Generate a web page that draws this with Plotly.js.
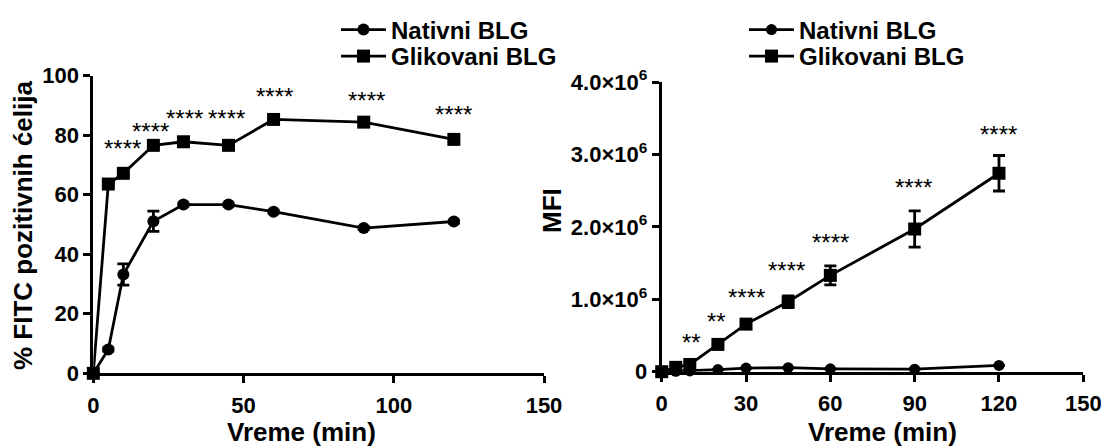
<!DOCTYPE html>
<html>
<head>
<meta charset="utf-8">
<script src="https://cdn.plot.ly/plotly-3.0.1.min.js"></script>
<style>html,body{margin:0;padding:0;background:#fff;}#chart{width:1104px;height:448px;}</style>
</head>
<body>
<div id="chart"></div>
<script>
// ---- data ----
const time = [0, 5, 10, 20, 30, 45, 60, 90, 120];
const seriesNames = ['Nativni BLG', 'Glikovani BLG'];

// Left panel: % FITC positive cells
const pctNativ = [0, 8, 33.2, 51.1, 56.7, 56.7, 54.3, 48.8, 51];
const pctNativErr = [0, 0.5, 3.6, 3.4, 0.5, 0.5, 0.5, 0.5, 0.5];
const pctGlik = [0, 63.6, 67.2, 76.6, 77.8, 76.6, 85.3, 84.4, 78.6];
const pctGlikErr = [0, 0.5, 0.5, 0.5, 0.5, 0.5, 0.5, 0.5, 0.5];

// Right panel: MFI
const mfiNativ = [0, 5000, 10000, 30000, 50000, 55000, 40000, 35000, 87000];
const mfiNativErr = [0, 0, 0, 0, 0, 0, 0, 0, 0];
const mfiGlik = [0, 60000, 100000, 377000, 657000, 965000, 1330000, 1970000, 2740000];
const mfiGlikErr = [0, 0, 0, 0, 0, 80000, 130000, 250000, 245000];

// significance labels
const sigLeftX = [9.6, 19.2, 30.4, 44.4, 60.3, 90.8, 120];
const sigLeftY = [75.4, 81.3, 85.7, 85.7, 93.1, 91.8, 86.8];
const sigLeftText = ['****', '****', '****', '****', '****', '****', '****'];
const sigRightX = [10.5, 19.5, 30.3, 44.5, 60, 89.6, 120];
const sigRightY = [410000, 700000, 1020000, 1400000, 1780000, 2550000, 3280000];
const sigRightText = ['**', '**', '****', '****', '****', '****', '****'];

// tick labels
const leftXTicks = [0, 50, 100, 150];
const leftYTicks = [0, 20, 40, 60, 80, 100];
const rightXTicks = [0, 30, 60, 90, 120, 150];
const rightYTicks = [0, 1e6, 2e6, 3e6, 4e6];
const rightYTickText = ['0', '1.0×10<sup>6</sup>', '2.0×10<sup>6</sup>', '3.0×10<sup>6</sup>', '4.0×10<sup>6</sup>'];

// axis titles
const xTitle = 'Vreme (min)';
const leftYTitle = '% FITC pozitivnih ćelija';
const rightYTitle = 'MFI';

// ---- styling ----
const FONT = 'Liberation Sans, Arial, sans-serif';
const black = '#000';
const W = 1104, H = 448;

function trace(x, y, err, name, symbol, size, xa, ya, legend) {
  return {
    type: 'scatter', mode: 'lines+markers', x: x, y: y, name: name,
    xaxis: xa, yaxis: ya, legend: legend, cliponaxis: false,
    line: {color: black, width: 2.8},
    marker: {symbol: symbol, size: size, color: black},
    error_y: {type: 'data', array: err, visible: true, color: black, thickness: 2.8, width: 6}
  };
}

const data = [
  trace(time, pctNativ, pctNativErr, seriesNames[0], 'circle', 12, 'x', 'y', 'legend'),
  trace(time, pctGlik, pctGlikErr, seriesNames[1], 'square', 13, 'x', 'y', 'legend2'),
  trace(time, mfiNativ, mfiNativErr, seriesNames[0], 'circle', 11, 'x2', 'y2', 'legend3'),
  trace(time, mfiGlik, mfiGlikErr, seriesNames[1], 'square', 13, 'x2', 'y2', 'legend4')
];

const axisBase = {
  showline: true, linecolor: black, linewidth: 3, mirror: false,
  ticks: 'outside', ticklen: 7, tickwidth: 3, tickcolor: black,
  showgrid: false, zeroline: false, fixedrange: true,
  tickfont: {family: FONT, size: 22, color: black, weight: 'bold'}
};
const titleFont = {family: FONT, size: 26, color: black, weight: 'bold'};
const starFont = {family: FONT, size: 24, color: black};

const annotations = [];
sigLeftX.forEach((x, i) => annotations.push({x: x, y: sigLeftY[i], xref: 'x', yref: 'y', text: sigLeftText[i], showarrow: false, font: starFont, yanchor: 'middle'}));
sigRightX.forEach((x, i) => annotations.push({x: x, y: sigRightY[i], xref: 'x2', yref: 'y2', text: sigRightText[i], showarrow: false, font: starFont, yanchor: 'middle'}));
// axis titles
annotations.push({xref: 'paper', yref: 'paper', x: 301 / W, y: 0, text: xTitle, showarrow: false, font: titleFont, xanchor: 'center', yanchor: 'bottom', borderpad: 0});
annotations.push({xref: 'paper', yref: 'paper', x: 882 / W, y: 0, text: xTitle, showarrow: false, font: titleFont, xanchor: 'center', yanchor: 'bottom', borderpad: 0});
annotations.push({xref: 'paper', yref: 'paper', x: 23 / W, y: 1 - 226 / H, text: leftYTitle, textangle: -90, showarrow: false, font: titleFont, xanchor: 'center', yanchor: 'middle'});
annotations.push({xref: 'paper', yref: 'paper', x: 552 / W, y: 1 - 211 / H, text: rightYTitle, textangle: -90, showarrow: false, font: titleFont, xanchor: 'center', yanchor: 'middle'});

const legendFont = {family: FONT, size: 24, color: black, weight: 'bold'};
function leg(xpx, ypx) {
  return {x: xpx / W, xanchor: 'left', y: 1 - ypx / H, yanchor: 'middle', font: legendFont, bgcolor: 'rgba(0,0,0,0)', borderwidth: 0, itemwidth: 45, tracegroupgap: 0};
}

const layout = {
  width: W, height: H,
  margin: {l: 0, r: 0, t: 0, b: 0},
  paper_bgcolor: '#fff', plot_bgcolor: '#fff',
  showlegend: true,
  xaxis: Object.assign({}, axisBase, {domain: [93.3 / W, 544 / W], range: [0, 150], tickvals: leftXTicks, anchor: 'y', ticklabelstandoff: 3}),
  yaxis: Object.assign({}, axisBase, {domain: [1 - 373.3 / H, 1 - 75.7 / H], range: [0, 100], tickvals: leftYTicks, anchor: 'x'}),
  xaxis2: Object.assign({}, axisBase, {domain: [661.7 / W, 1083.3 / W], range: [0, 150], tickvals: rightXTicks, anchor: 'y2', ticklabelstandoff: 3}),
  yaxis2: Object.assign({}, axisBase, {domain: [1 - 371.7 / H, 1 - 82 / H], range: [0, 4e6], tickvals: rightYTicks, ticktext: rightYTickText, anchor: 'x2'}),
  legend: leg(336, 30),
  legend2: leg(336, 56.5),
  legend3: leg(744, 30),
  legend4: leg(744, 56.5),
  annotations: annotations
};

Plotly.newPlot('chart', data, layout, {displayModeBar: false, staticPlot: true});
</script>
</body>
</html>
